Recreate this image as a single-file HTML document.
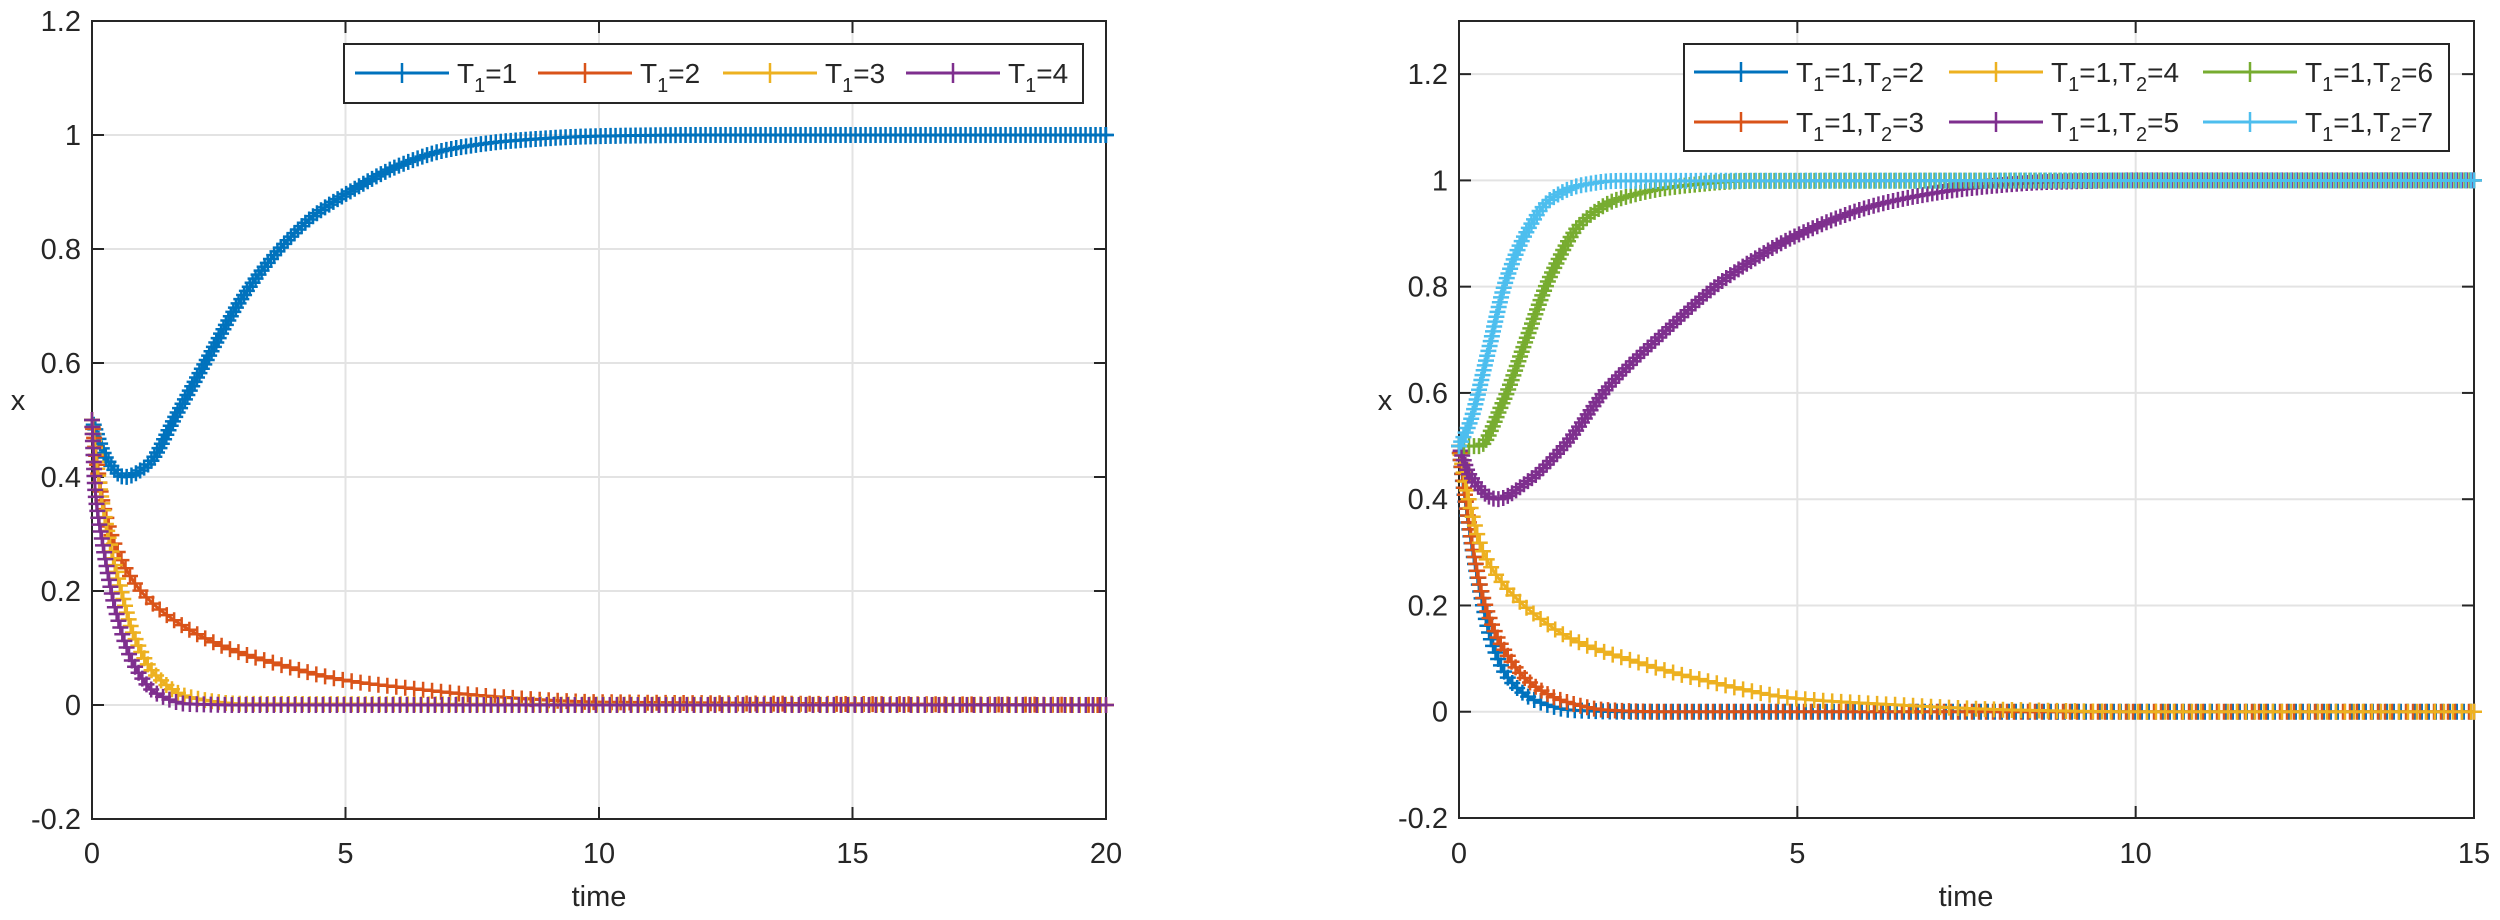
<!DOCTYPE html>
<html><head><meta charset="utf-8"><style>
html,body{margin:0;padding:0;background:#fff;}
svg{display:block;font-family:"Liberation Sans",sans-serif;}
</style></head><body>
<svg id="fig" width="2500" height="920" viewBox="0 0 2500 920" xmlns="http://www.w3.org/2000/svg">
<rect width="2500" height="920" fill="#fff"/>
<g id="left"></g>
<g id="right"></g>
</svg>
<script>
// ---- Left chart data ----
const leftTicksX = [0, 5, 10, 15, 20];
const leftTicksY = [-0.2, 0, 0.2, 0.4, 0.6, 0.8, 1, 1.2];
const leftLabels = ["1", "2", "3", "4"];
const L1t = [0, 0.3, 0.64, 1.08, 1.7, 2.23, 2.93, 3.64, 4.34, 5.02, 6.1, 7.0, 8.3, 10, 12, 20];
const L1y = [0.5, 0.43, 0.40, 0.42, 0.515, 0.6, 0.71, 0.794, 0.856, 0.897, 0.948, 0.974, 0.99, 0.998, 1, 1];
const L2t = [0, 0.2, 0.56, 1.0, 1.7, 2.58, 3.46, 5.02, 6.1, 7.9, 10, 20];
const L2y = [0.5, 0.36, 0.258, 0.196, 0.144, 0.103, 0.077, 0.043, 0.031, 0.015, 0.005, 0];
const L3t = [0, 0.11, 0.29, 0.56, 0.82, 1.26, 1.88, 3, 20];
const L3y = [0.5, 0.41, 0.31, 0.206, 0.124, 0.052, 0.015, 0.002, 0];
const L4t = [0, 0.07, 0.2, 0.47, 0.82, 1.26, 1.88, 3, 20];
const L4y = [0.5, 0.37, 0.289, 0.165, 0.072, 0.021, 0.002, 0, 0];
// ---- Right chart data ----
const rightTicksX = [0, 5, 10, 15];
const rightTicksY = [-0.2, 0, 0.2, 0.4, 0.6, 0.8, 1, 1.2];
const rightLabels = ["2", "3", "4", "5", "6", "7"];
const R2t = [0, 0.1, 0.3, 0.5, 0.76, 1.15, 1.68, 2.5, 15];
const R2y = [0.5, 0.39, 0.235, 0.125, 0.058, 0.02, 0.003, 0, 0];
const R3t = [0, 0.13, 0.36, 0.63, 1.02, 1.55, 2.2, 3, 15];
const R3y = [0.5, 0.37, 0.213, 0.125, 0.058, 0.02, 0.003, 0, 0];
const R4t = [0, 0.16, 0.36, 0.69, 1.15, 1.68, 2.67, 3.66, 4.98, 6.3, 8.3, 10, 15];
const R4y = [0.5, 0.39, 0.30, 0.235, 0.18, 0.136, 0.092, 0.058, 0.025, 0.014, 0.003, 0, 0];
const R5t = [0, 0.16, 0.56, 1.02, 1.55, 2.2, 3.0, 3.99, 5, 6.3, 7.6, 8.7, 10, 15];
const R5y = [0.5, 0.445, 0.40, 0.434, 0.5, 0.61, 0.71, 0.82, 0.897, 0.958, 0.986, 0.997, 1, 1];
const R6t = [0, 0.3, 0.63, 1.02, 1.35, 1.81, 2.34, 3.33, 4.3, 15];
const R6y = [0.5, 0.5, 0.577, 0.71, 0.82, 0.92, 0.964, 0.99, 0.999, 1];
const R7t = [0, 0.16, 0.43, 0.69, 1.02, 1.35, 1.81, 2.34, 15];
const R7y = [0.5, 0.544, 0.677, 0.81, 0.908, 0.964, 0.991, 0.999, 1];

const NS = "http://www.w3.org/2000/svg";
const COLORS = ["#0072BD", "#D95319", "#EDB120", "#7E2F8E", "#77AC30", "#4DBEEE"];
function mk(tag, attrs, parent) {
  const e = document.createElementNS(NS, tag);
  for (const k in attrs) e.setAttribute(k, attrs[k]);
  parent.appendChild(e);
  return e;
}
function plus(g, x, y, c, s) {
  const p = mk("path", {d: `M${x - s} ${y}H${x + s}M${x} ${y - s}V${y + s}`, stroke: c, "stroke-width": 2.5, fill: "none"}, g);
  
  
}
function makeAxes(g, o) {
  const sx = v => o.x0 + (v - o.xmin) / (o.xmax - o.xmin) * (o.x1 - o.x0);
  const sy = v => o.y1 - (v - o.ymin) / (o.ymax - o.ymin) * (o.y1 - o.y0);
  const grid = mk("g", {}, g);
  
  
  o.tx.forEach(v => {
    const X = sx(v);
    mk("line", {x1: X, x2: X, y1: o.y0, y2: o.y1, stroke: "#e3e3e3", "stroke-width": 2}, grid);
    mk("line", {x1: X, x2: X, y1: o.y1, y2: o.y1 - 12, stroke: "#262626", "stroke-width": 2}, g);
    mk("line", {x1: X, x2: X, y1: o.y0, y2: o.y0 + 12, stroke: "#262626", "stroke-width": 2}, g);
    const t = mk("text", {x: X, y: 863, "font-size": 29, "text-anchor": "middle", fill: "#262626"}, g);
    t.textContent = String(v);
    
    
  });
  o.ty.forEach(v => {
    const Y = sy(v);
    mk("line", {x1: o.x0, x2: o.x1, y1: Y, y2: Y, stroke: "#e3e3e3", "stroke-width": 2}, grid);
    mk("line", {x1: o.x0, x2: o.x0 + 12, y1: Y, y2: Y, stroke: "#262626", "stroke-width": 2}, g);
    mk("line", {x1: o.x1, x2: o.x1 - 12, y1: Y, y2: Y, stroke: "#262626", "stroke-width": 2}, g);
    const t = mk("text", {x: o.x0 - 11, y: Y + 10, "font-size": 29, "text-anchor": "end", fill: "#262626"}, g);
    t.textContent = String(Math.round(v * 10) / 10);
    
    
  });
  const box = mk("rect", {x: o.x0, y: o.y0, width: o.x1 - o.x0, height: o.y1 - o.y0, fill: "none", stroke: "#262626", "stroke-width": 2}, g);
  
  
  const xl = mk("text", {x: o.xlab, y: 906, "font-size": 29, "text-anchor": "middle", fill: "#262626"}, g);
  xl.textContent = "time";
  
  
  const yl = mk("text", {x: o.ylab, y: 410, "font-size": 29, "text-anchor": "middle", fill: "#262626"}, g);
  yl.textContent = "x";
  
  
  return {sx, sy};
}
function series(g, ax, ts, ys, c, step, name) {
  const X = ts.map(t => ax.sx(t)), Y = ys.map(v => ax.sy(v));
  const n = X.length;
  const dl = [], m = [];
  for (let i = 0; i < n - 1; i++) dl.push((Y[i + 1] - Y[i]) / (X[i + 1] - X[i]));
  m[0] = dl[0]; m[n - 1] = dl[n - 2];
  for (let i = 1; i < n - 1; i++) {
    if (dl[i - 1] * dl[i] <= 0) m[i] = 0;
    else {
      const h0 = X[i] - X[i - 1], h1 = X[i + 1] - X[i];
      const w1 = 2 * h1 + h0, w2 = h1 + 2 * h0;
      m[i] = (w1 + w2) / (w1 / dl[i - 1] + w2 / dl[i]);
    }
  }
  let d = "M" + X[0] + " " + Y[0];
  for (let i = 0; i < n - 1; i++) {
    const h = X[i + 1] - X[i];
    d += `C${X[i] + h / 3} ${Y[i] + m[i] * h / 3} ${X[i + 1] - h / 3} ${Y[i + 1] - m[i + 1] * h / 3} ${X[i + 1]} ${Y[i + 1]}`;
  }
  const sg = mk("g", {}, g);
  
  
  const path = mk("path", {d, stroke: c, "stroke-width": 3, fill: "none"}, sg);
  
  
  const len = path.getTotalLength();
  for (let s = 0; s <= len; s += step) {
    const p = path.getPointAtLength(s);
    plus(sg, p.x, p.y, c, 8);
  }
  const e = path.getPointAtLength(len);
  plus(sg, e.x, e.y, c, 8);
}
function legendEntry(g, x, y, c, rest, name) {
  const eg = mk("g", {}, g);
  
  
  mk("line", {x1: x, x2: x + 94, y1: y, y2: y, stroke: c, "stroke-width": 3}, eg);
  plus(eg, x + 47, y, c, 10);
  const t = mk("text", {x: x + 102, y: y + 10, "font-size": 28, fill: "#262626"}, eg);
  t.innerHTML = rest;
}
// Left chart
const gl = document.getElementById("left");
const axL = makeAxes(gl, {x0: 92, x1: 1106, y0: 21, y1: 819, xmin: 0, xmax: 20, ymin: -0.2, ymax: 1.2, tx: leftTicksX, ty: leftTicksY, xlab: 599, ylab: 18});
series(gl, axL, L1t, L1y, COLORS[0], 5, "series-t1-1");
series(gl, axL, L2t, L2y, COLORS[1], 9, "series-t1-2");
series(gl, axL, L3t, L3y, COLORS[2], 7, "series-t1-3");
series(gl, axL, L4t, L4y, COLORS[3], 7, "series-t1-4");
const lgL = mk("g", {}, gl);


mk("rect", {x: 344, y: 44, width: 739, height: 59, fill: "#fff", stroke: "#262626", "stroke-width": 2}, lgL);
const lxL = [355, 538, 723, 906];
leftLabels.forEach((v, i) => legendEntry(lgL, lxL[i], 73, COLORS[i],
  `T<tspan font-size="20" dy="9">1</tspan><tspan dy="-9">=${v}</tspan>`, "legend-entry-t1-" + v));
// Right chart
const gr = document.getElementById("right");
const axR = makeAxes(gr, {x0: 1459, x1: 2474, y0: 21, y1: 818, xmin: 0, xmax: 15, ymin: -0.2, ymax: 1.3, tx: rightTicksX, ty: rightTicksY, xlab: 1966, ylab: 1385});
series(gr, axR, R2t, R2y, COLORS[0], 7, "series-t2-2");
series(gr, axR, R3t, R3y, COLORS[1], 7, "series-t2-3");
series(gr, axR, R4t, R4y, COLORS[2], 9, "series-t2-4");
series(gr, axR, R5t, R5y, COLORS[3], 5, "series-t2-5");
series(gr, axR, R6t, R6y, COLORS[4], 5, "series-t2-6");
series(gr, axR, R7t, R7y, COLORS[5], 5, "series-t2-7");
const lgR = mk("g", {}, gr);


mk("rect", {x: 1684, y: 44, width: 765, height: 107, fill: "#fff", stroke: "#262626", "stroke-width": 2}, lgR);
const lxR = [1694, 1949, 2203];
rightLabels.forEach((v, i) => legendEntry(lgR, lxR[Math.floor(i / 2)], i % 2 ? 122 : 72, COLORS[i],
  `T<tspan font-size="20" dy="9">1</tspan><tspan dy="-9">=1,T</tspan><tspan font-size="20" dy="9">2</tspan><tspan dy="-9">=${v}</tspan>`, "legend-entry-t2-" + v));
</script>
</body></html>
